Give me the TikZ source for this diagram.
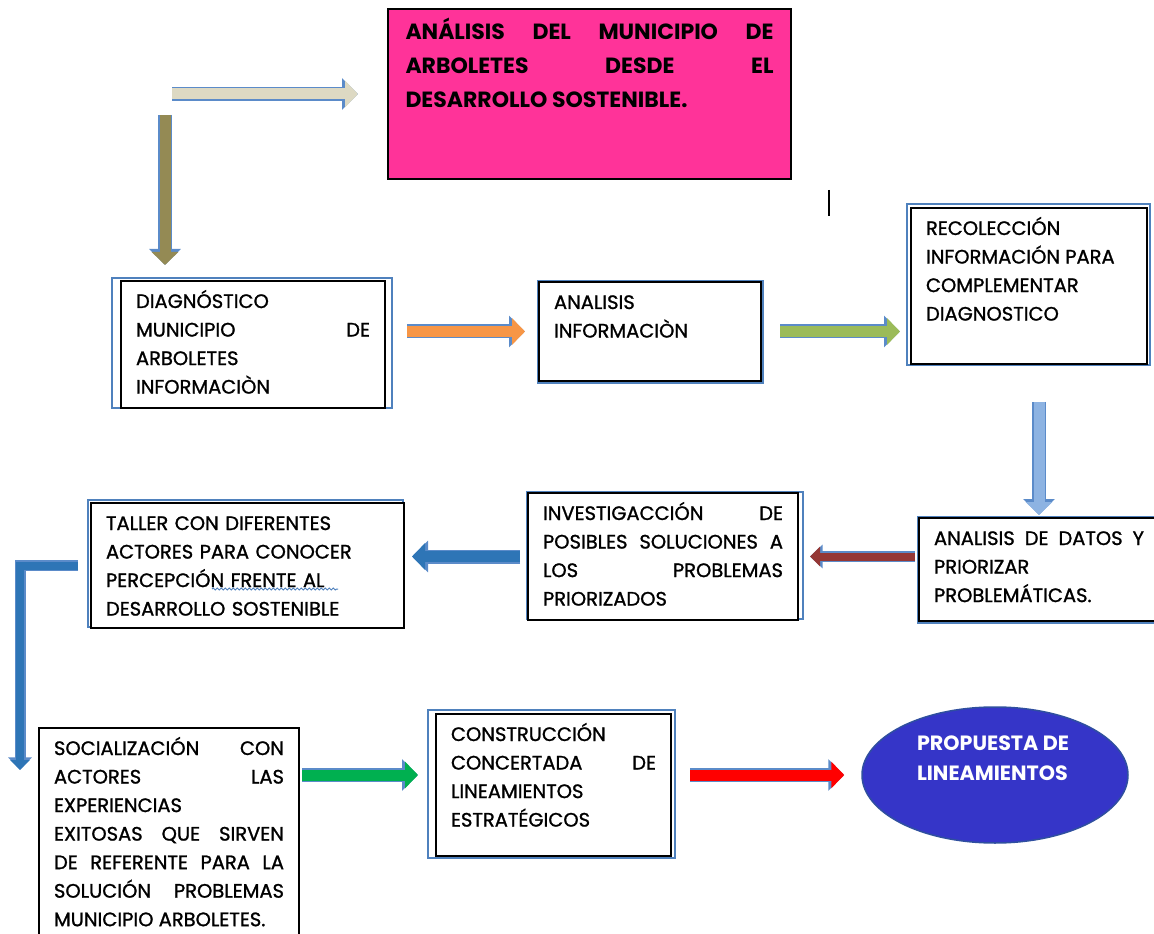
\documentclass[tikz,border=0pt]{standalone}
\usepackage{fontspec}
\setmainfont{Poppins}[UprightFeatures={FakeBold=1.2}]
\usetikzlibrary{arrows.meta,shapes.geometric,decorations.pathmorphing}

\newdimen\pix \pix=0.75pt

\definecolor{rosa}{HTML}{FF3399}
\definecolor{arena}{HTML}{DDD9C3}
\definecolor{oliva}{HTML}{948A54}
\definecolor{naranja}{HTML}{F79646}
\definecolor{verdeclaro}{HTML}{9BBB59}
\definecolor{celeste}{HTML}{8DB3E2}
\definecolor{vino}{HTML}{953735}
\definecolor{azul}{HTML}{2E75B6}
\definecolor{verde}{HTML}{00B050}
\definecolor{rojo}{HTML}{FF0000}
\definecolor{borde}{HTML}{5B8BC9}
\definecolor{marcoazul}{HTML}{4F81BD}
\definecolor{elipse}{HTML}{3535C8}
\definecolor{elipseborde}{HTML}{2F4F9F}

\tikzset{
	caja/.style={draw=black, line width=2\pix, anchor=north west, align=justify, inner xsep=15\pix, inner ysep=14\pix, text height=13\pix, font=\fontsize{14.6}{21.4}\selectfont},
	marco/.style={draw=marcoazul, line width=1.5\pix},
	flecha/.style={line width=8.25pt, draw=#1, -{Triangle[length=9.75pt,width=19.5pt]}, preaction={draw=borde, line width=10.5pt, -{Triangle[length=12pt,width=23.25pt]}}},
	flechachica/.style={line width=6pt, draw=#1, -{Triangle[length=7.5pt,width=14.25pt]}, preaction={draw=borde, line width=8.25pt, -{Triangle[length=9.4pt,width=17.25pt]}}}
}

\begin{document}
\begin{tikzpicture}[x=0.75pt, y=-0.75pt]
	\useasboundingbox (0,0) rectangle (1154,934);

	\node[caja, fill=rosa, font=\fontsize{16.5}{25.5}\selectfont\bfseries, text width=368\pix, inner xsep=17.5\pix, inner ysep=17\pix, text height=14\pix, text depth=122\pix](titulo) at (387,8){ANÁLISIS DEL MUNICIPIO DE\linebreak ARBOLETES DESDE EL\linebreak DESARROLLO SOSTENIBLE.};

	\draw[marco] (112,278) rectangle (392,408);
	\draw[marco] (538,281) rectangle (763,383);
	\draw[marco] (907,204) rectangle (1150,365);
	\draw[marco] (918,517) rectangle (1160,623);
	\draw[marco] (527,492) rectangle (803,619);
	\draw[marco] (88,500) rectangle (403,627);
	\draw[marco] (428,710) rectangle (675,858);

	\node[caja, text width=234\pix, text depth=86\pix](diag) at (120,280){DIAGNÓSTICO\\ MUNICIPIO DE\linebreak ARBOLETES\\ INFORMACIÒN};
	\node[caja, fill=white, text width=192\pix, text depth=58\pix](info) at (538,281){ANALISIS\\ INFORMACIÒN};
	\node[caja, fill=white, text width=206\pix, text depth=115\pix](recol) at (910,207){RECOLECCIÓN\\ INFORMACIÓN PARA\\ COMPLEMENTAR\\ DIAGNOSTICO};
	\node[caja, fill=white, text width=210\pix, text depth=62\pix](datos) at (918,517){ANALISIS DE DATOS Y\linebreak PRIORIZAR\\ PROBLEMÁTICAS.};
	\node[caja, fill=white, text width=240\pix, text depth=86\pix](invest) at (527,492){INVESTIGACCIÓN DE\linebreak POSIBLES SOLUCIONES A\linebreak LOS PROBLEMAS\linebreak PRIORIZADOS};
	\node[caja, fill=white, align=left, text width=283\pix, text depth=84\pix](taller) at (90,502){TALLER CON DIFERENTES\\ ACTORES PARA CONOCER\\ PERCEPCIÓN FRENTE AL\\ DESARROLLO SOSTENIBLE};
	\node[caja, fill=white, text width=230\pix, text depth=175\pix](socio) at (38,727){SOCIALIZACIÓN CON\linebreak ACTORES LAS\linebreak EXPERIENCIAS\\ EXITOSAS QUE SIRVEN\linebreak DE REFERENTE PARA LA\linebreak SOLUCIÓN PROBLEMAS\linebreak MUNICIPIO ARBOLETES.};
	\node[caja, fill=white, text width=205\pix, text depth=101\pix](constr) at (435,713){CONSTRUCCIÓN\\ CONCERTADA DE\linebreak LINEAMIENTOS\\ ESTRATÉGICOS};

	\node[ellipse, fill=elipse, draw=elipseborde, line width=1.5\pix, minimum width=266\pix, minimum height=136\pix](prop) at (995,775){};
	\node[text=white, align=left, font=\fontsize{15.5}{22.5}\selectfont\bfseries](proptxt) at ([xshift=-2\pix, yshift=17\pix]prop.center){PROPUESTA DE\\ LINEAMIENTOS};

	\coordinate (inicio) at (172,94);
	\coordinate (bajada) at (165,115);
	\coordinate (codo) at (20,770);

	\draw[flecha=arena, shorten >=21.75pt] (inicio) -- (titulo.west);
	\draw[flecha=oliva, shorten >=11.25pt] (bajada) -- (bajada |- diag.north);
	\draw[flecha=naranja, shorten <=15.75pt, shorten >=9.75pt] (diag.east |- info.west) -- (info.west);
	\draw[flecha=verdeclaro, shorten <=13.5pt, shorten >=7.5pt] (info.east) -- (info.east -| recol.west);
	\draw[flecha=celeste, shorten <=27.75pt, shorten >=1.5pt] (recol.south -| datos.north) -- (datos.north);
	\draw[flechachica=vino, shorten <=2.25pt, shorten >=8.25pt] (invest.east -| datos.west) -- (invest.east);
	\draw[flecha=azul, shorten <=5.25pt, shorten >=5.25pt] (invest.west) -- (invest.west -| taller.east);
	\draw[flechachica=azul, shorten <=9pt] (taller.west) -| (codo);
	\draw[flecha=verde, shorten <=1.5pt, shorten >=12.75pt] (socio.east |- prop.west) -- (constr.west |- prop.west);
	\draw[flecha=rojo, shorten <=13.5pt, shorten >=12.75pt] (constr.east |- prop.west) -- (prop.west);

	\draw[line width=1.5\pix] (829,190) -- (829,216);
	\draw[marcoazul, line width=0.75pt, decorate, decoration={snake, amplitude=0.75pt, segment length=3pt}] (212,589) -- (338,589);
\end{tikzpicture}
\end{document}
